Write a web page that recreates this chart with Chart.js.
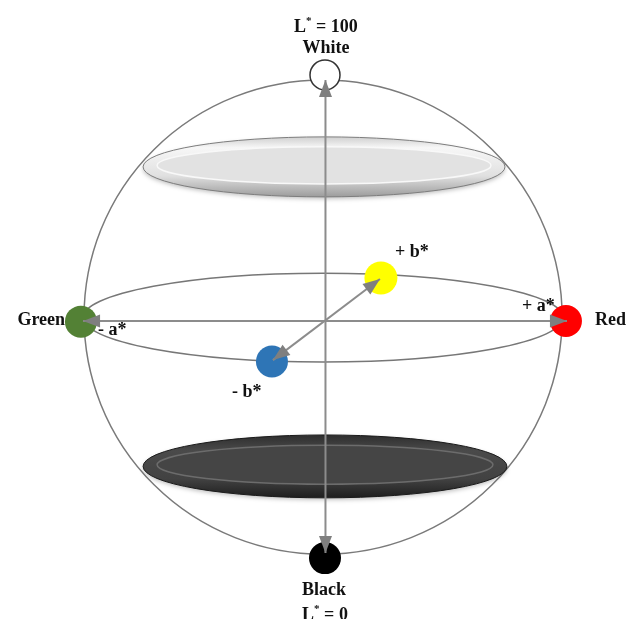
<!DOCTYPE html>
<html lang="en">
<head>
  <meta charset="UTF-8">
  <title>CIELAB colour space</title>
  <script src="https://cdn.jsdelivr.net/npm/chart.js"></script>
  <style>
    body { margin: 0; background: #fff; }
    canvas { display: block; }
  </style>
</head>
<body>
  <canvas id="labChart" width="629" height="619"></canvas>
  <script>
    // colour points in chart units: x = a*, y = height about the centre of the sphere
    const pointNames = ['White', 'Green', 'Red', 'Yellow', 'Blue', 'Black'];
    const pointX = [0, -101.7, 100.4, 23.3, -22.1, 0];
    const pointY = [102.1, -0.7, -0.4, 17.5, -17.3, -99.2];
    const pointColors = ['#ffffff', '#538135', '#ff0000', '#ffff00', '#2e75b6', '#000000'];
    const pointBorders = ['#333333', '#538135', '#ff0000', '#ffff00', '#2e75b6', '#000000'];

    // the three axes, arrow heads at both ends
    const axisL = [[0.2, 100], [0.2, -97.1]];
    const axisA = [[-100.8, -0.4], [100.8, -0.4]];
    const axisB = [[-21.7, -16.7], [22.9, 17.1]];

    // ellipses: centre x, centre y, radius x, radius y
    const sphere = [-0.8, 1.2, 99.6, 98.8];
    const equator = [-0.8, 1.0, 100, 18.5];
    const whiteDisc = [-0.4, 63.8, 75.4, 12.5];
    const blackDisc = [0, -61, 75.8, 13.1];

    // labels
    const labelText = ['L* = 100', 'White', 'Green', '- a*', '+ a*', 'Red', '+ b*', '- b*', 'Black', 'L* = 0'];
    const labelX = [0.4, 0.4, -108.3, -94.6, 82.1, 112.5, 29.2, -38.8, -0.4, 0];
    const labelY = [120, 111.3, -2.1, -6.3, 3.8, -2.1, 26.3, -32.1, -114.6, -125];
    const labelAlign = ['center', 'center', 'right', 'left', 'left', 'left', 'left', 'left', 'center', 'center'];

    const toPoints = pairs => pairs.map(p => ({ x: p[0], y: p[1] }));
    const FONT = '"Liberation Serif", "DejaVu Serif", serif';

    function ellipsePath(ctx, chart, e) {
      const xs = chart.scales.x, ys = chart.scales.y;
      const cx = xs.getPixelForValue(e[0]);
      const cy = ys.getPixelForValue(e[1]);
      const rx = Math.abs(xs.getPixelForValue(e[0] + e[2]) - cx);
      const ry = Math.abs(ys.getPixelForValue(e[1] + e[3]) - cy);
      ctx.beginPath();
      ctx.ellipse(cx, cy, rx, ry, 0, 0, Math.PI * 2);
      return { cx, cy, rx, ry };
    }

    function drawDisc(ctx, chart, e, dark) {
      ctx.save();
      ctx.shadowColor = 'rgba(0,0,0,0.25)';
      ctx.shadowBlur = 4;
      ctx.shadowOffsetY = 2;
      const g = ellipsePath(ctx, chart, e);
      const grad = ctx.createLinearGradient(0, g.cy - g.ry, 0, g.cy + g.ry);
      if (dark) {
        grad.addColorStop(0, '#2e2e2e');
        grad.addColorStop(0.25, '#4a4a4a');
        grad.addColorStop(0.7, '#424242');
        grad.addColorStop(1, '#1e1e1e');
      } else {
        grad.addColorStop(0, '#cfcfcf');
        grad.addColorStop(0.18, '#f7f7f7');
        grad.addColorStop(0.65, '#e0e0e0');
        grad.addColorStop(1, '#9c9c9c');
      }
      ctx.fillStyle = grad;
      ctx.fill();
      ctx.shadowColor = 'transparent';
      ctx.lineWidth = 1;
      ctx.strokeStyle = dark ? '#1a1a1a' : '#7d7d7d';
      ctx.stroke();
      // inner face
      ctx.beginPath();
      ctx.ellipse(g.cx, g.cy - g.ry * 0.05, g.rx - 14, g.ry * 0.62, 0, 0, Math.PI * 2);
      ctx.fillStyle = dark ? '#454545' : '#e2e2e2';
      ctx.fill();
      ctx.strokeStyle = dark ? '#6c6c6c' : '#f8f8f8';
      ctx.lineWidth = 1.5;
      ctx.stroke();
      ctx.restore();
    }

    function arrowHead(ctx, chart, from, to) {
      const xs = chart.scales.x, ys = chart.scales.y;
      const x1 = xs.getPixelForValue(from[0]), y1 = ys.getPixelForValue(from[1]);
      const x2 = xs.getPixelForValue(to[0]), y2 = ys.getPixelForValue(to[1]);
      const ang = Math.atan2(y2 - y1, x2 - x1);
      const len = 17, half = 6.5;
      ctx.save();
      ctx.translate(x2, y2);
      ctx.rotate(ang);
      ctx.beginPath();
      ctx.moveTo(0, 0);
      ctx.lineTo(-len, -half);
      ctx.lineTo(-len, half);
      ctx.closePath();
      ctx.fillStyle = '#7f7f7f';
      ctx.fill();
      ctx.restore();
    }

    function drawLabel(ctx, chart, i) {
      const x = chart.scales.x.getPixelForValue(labelX[i]);
      const y = chart.scales.y.getPixelForValue(labelY[i]);
      const text = labelText[i];
      ctx.save();
      ctx.fillStyle = '#111';
      ctx.textBaseline = 'alphabetic';
      const big = 'bold 18px ' + FONT, small = 'bold 11px ' + FONT;
      if (text.startsWith('L*')) {
        // L with a small raised star
        const rest = text.slice(2);
        ctx.font = big;
        const wL = ctx.measureText('L').width, wR = ctx.measureText(rest).width;
        ctx.font = small;
        const wS = ctx.measureText('*').width;
        let left = x - (wL + wS + wR) / 2;
        ctx.textAlign = 'left';
        ctx.font = big;
        ctx.fillText('L', left, y);
        ctx.font = small;
        ctx.fillText('*', left + wL, y - 8);
        ctx.font = big;
        ctx.fillText(rest, left + wL + wS, y);
      } else {
        ctx.font = big;
        ctx.textAlign = labelAlign[i];
        ctx.fillText(text, x, y);
      }
      ctx.restore();
    }

    const shapesPlugin = {
      id: 'shapes',
      beforeDatasetsDraw(chart) {
        const ctx = chart.ctx;
        ctx.save();
        ellipsePath(ctx, chart, sphere);
        ctx.strokeStyle = '#7a7a7a';
        ctx.lineWidth = 1.5;
        ctx.stroke();
        ellipsePath(ctx, chart, equator);
        ctx.strokeStyle = '#777777';
        ctx.lineWidth = 1.5;
        ctx.stroke();
        ctx.restore();
        drawDisc(ctx, chart, whiteDisc, false);
        drawDisc(ctx, chart, blackDisc, true);
      },
      afterDatasetsDraw(chart) {
        const ctx = chart.ctx;
        [axisL, axisA, axisB].forEach(ax => {
          arrowHead(ctx, chart, ax[0], ax[1]);
          arrowHead(ctx, chart, ax[1], ax[0]);
        });
        labelText.forEach((t, i) => drawLabel(ctx, chart, i));
      }
    };

    const axisStyle = {
      showLine: true,
      borderColor: '#8c8c8c',
      borderWidth: 2,
      pointRadius: 0,
      fill: false,
      order: 0
    };

    new Chart(document.getElementById('labChart'), {
      type: 'scatter',
      data: {
        datasets: [
          Object.assign({ label: 'L*', data: toPoints(axisL) }, axisStyle),
          Object.assign({ label: 'a*', data: toPoints(axisA) }, axisStyle),
          Object.assign({ label: 'b*', data: toPoints(axisB) }, axisStyle),
          {
            label: 'colours',
            data: pointX.map((x, i) => ({ x: x, y: pointY[i], name: pointNames[i] })),
            backgroundColor: pointColors,
            borderColor: pointBorders,
            borderWidth: [1.5, 0, 0, 0, 0, 0],
            pointRadius: [15, 16, 16, 16.5, 16, 16],
            order: 1
          }
        ]
      },
      options: {
        responsive: false,
        animation: false,
        layout: { padding: 0, autoPadding: false },
        plugins: { legend: { display: false }, tooltip: { enabled: false } },
        scales: {
          x: { type: 'linear', display: false, min: -135.42, max: 126.67 },
          y: { type: 'linear', display: false, min: -124.58, max: 133.33 }
        }
      },
      plugins: [shapesPlugin]
    });
  </script>
</body>
</html>
